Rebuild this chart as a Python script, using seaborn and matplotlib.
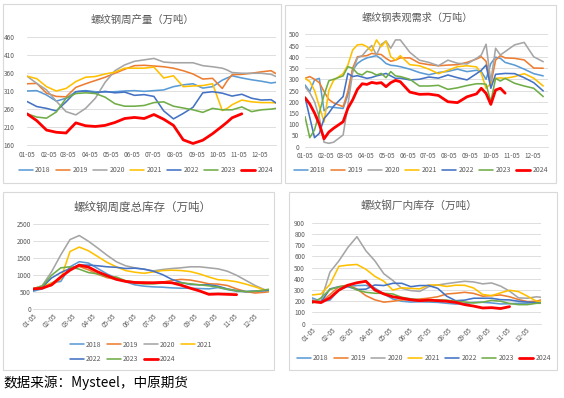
import numpy as np
import pandas as pd
import seaborn as sns
import matplotlib.pyplot as plt
from matplotlib.patches import Rectangle
from matplotlib.lines import Line2D

nan = np.nan

years = ['2018', '2019', '2020', '2021', '2022', '2023', '2024']
colors = ['#5B9BD5', '#ED7D31', '#A5A5A5', '#FFC000', '#4472C4', '#70AD47', '#FF0000']
month_labels = ['01-05', '02-05', '03-05', '04-05', '05-05', '06-05',
                '07-05', '08-05', '09-05', '10-05', '11-05', '12-05']
month_days = [0, 31, 59, 90, 120, 151, 181, 212, 243, 273, 304, 334]

# 螺纹钢周产量 (week index from 01-05)
prod_weeks = [0, 2, 4, 6, 8, 10, 12, 14, 16, 18, 20, 22, 24, 26, 28, 30, 32, 34, 36, 38, 40, 41, 42, 44, 46, 48, 50, 51]
prod_2018 = [310, 311, 299, 282, 290, 308, 311, 308, 307, 308, 310, 311, 309, 311, 313, 322, 327, 330, 318, 322, 340, 346, 352, 346, 341, 337, 332, 334]
prod_2019 = [330, 331, 304, 295, 294, 320, 330, 339, 348, 359, 370, 380, 381, 379, 377, 373, 366, 357, 343, 345, 317, 338, 355, 356, 359, 363, 366, 358]
prod_2020 = [351, 331, 313, 282, 253, 244, 262, 290, 334, 366, 382, 392, 396, 400, 390, 388, 388, 388, 380, 377, 373, 368, 361, 359, 359, 359, 356, 350]
prod_2021 = [351, 344, 322, 310, 317, 336, 348, 350, 357, 362, 373, 373, 373, 376, 346, 352, 322, 324, 325, 330, 256, 262, 272, 285, 280, 278, 278, 277]
prod_2022 = [281, 267, 262, 255, 280, 308, 310, 305, 309, 305, 307, 298, 300, 295, 255, 233, 248, 265, 305, 308, 304, 300, 296, 301, 290, 285, 286, 277]
prod_2023 = [247, 238, 235, 252, 290, 303, 305, 303, 293, 275, 268, 268, 270, 278, 280, 268, 263, 258, 251, 262, 258, 258, 258, 266, 253, 258, 260, 262]
prod_2024 = [247, 228, 202, 196, 194, 222, 214, 212, 215, 223, 234, 237, 234, 245, 232, 215, 175, 165, 174, 192, 213, 224, 236, 247, nan, nan, nan, nan]

# 螺纹钢表观需求
dem_weeks = [0, 1, 2, 3, 4, 5, 6, 8, 9, 10, 11, 12, 13, 14, 15, 16, 17, 18, 19, 20, 22, 24, 26, 28, 30, 32, 34, 36, 37, 38, 39, 40, 41, 42, 44, 46, 48, 50]
dem_2018 = [275, 245, 297, 304, 160, 178, 175, 170, 230, 340, 370, 385, 395, 400, 405, 390, 370, 362, 360, 356, 345, 330, 320, 330, 335, 345, 334, 340, 334, 300, 370, 398, 393, 375, 363, 345, 325, 315]
dem_2019 = [304, 312, 300, 285, 245, 210, 195, 178, 245, 349, 400, 403, 405, 415, 412, 410, 393, 380, 385, 395, 395, 372, 365, 360, 363, 365, 375, 390, 400, 380, 278, 385, 405, 395, 393, 386, 350, 349]
dem_2020 = [267, 240, 200, 130, 20, 15, 20, 52, 185, 330, 395, 405, 430, 450, 408, 455, 470, 438, 475, 475, 420, 385, 375, 360, 385, 371, 368, 393, 408, 456, 290, 438, 408, 423, 453, 464, 400, 378]
dem_2021 = [304, 290, 250, 180, 110, 250, 295, 325, 363, 430, 453, 455, 445, 425, 475, 445, 470, 400, 385, 405, 365, 360, 345, 325, 340, 356, 360, 355, 326, 260, 282, 304, 306, 304, 312, 325, 305, 270]
dem_2022 = [220, 130, 40, 59, 125, 150, 180, 223, 326, 312, 316, 310, 304, 308, 315, 320, 326, 315, 304, 305, 297, 300, 310, 305, 319, 307, 297, 325, 340, 363, 260, 322, 324, 326, 325, 307, 285, 248]
dem_2023 = [134, 40, 75, 150, 230, 293, 300, 315, 356, 349, 326, 319, 335, 330, 319, 326, 307, 334, 315, 312, 300, 270, 270, 273, 255, 262, 272, 280, 280, 278, 200, 304, 292, 304, 282, 270, 260, 223]
dem_2024 = [218, 190, 150, 100, 35, 65, 82, 111, 171, 208, 255, 280, 277, 286, 282, 285, 267, 285, 295, 289, 243, 233, 234, 228, 200, 196, 222, 235, 260, 237, 188, 252, 260, 238, nan, nan, nan, nan]

# 螺纹钢周度总库存
stock_weeks = [0, 2, 4, 6, 8, 10, 12, 14, 16, 18, 20, 22, 24, 26, 28, 30, 32, 34, 36, 38, 40, 42, 44, 46, 48, 50, 51]
stock_2018 = [530, 600, 780, 820, 1250, 1400, 1360, 1200, 1040, 920, 810, 720, 680, 660, 650, 630, 620, 620, 610, 600, 640, 580, 530, 520, 540, 550, 560]
stock_2019 = [600, 640, 700, 900, 1220, 1260, 1160, 1030, 930, 880, 840, 800, 800, 785, 800, 850, 880, 860, 810, 750, 740, 700, 600, 520, 480, 500, 520]
stock_2020 = [600, 700, 1100, 1600, 2050, 2170, 2000, 1800, 1590, 1400, 1280, 1220, 1180, 1130, 1170, 1200, 1220, 1250, 1250, 1220, 1190, 1120, 1000, 850, 700, 580, 550]
stock_2021 = [600, 680, 770, 900, 1700, 1830, 1720, 1550, 1380, 1250, 1140, 1090, 1060, 1100, 1140, 1150, 1140, 1110, 1040, 950, 870, 850, 810, 740, 660, 570, 530]
stock_2022 = [560, 650, 920, 1080, 1200, 1300, 1300, 1280, 1250, 1235, 1200, 1210, 1180, 1120, 1020, 880, 790, 730, 720, 720, 680, 600, 550, 520, 530, 550, 560]
stock_2023 = [600, 680, 1000, 1220, 1250, 1180, 1080, 1040, 960, 950, 840, 770, 750, 750, 770, 780, 775, 750, 720, 690, 650, 590, 545, 520, 530, 570, 590]
stock_2024 = [600, 620, 720, 950, 1150, 1300, 1240, 1100, 990, 880, 820, 790, 780, 780, 790, 780, 710, 620, 540, 440, 450, 440, 430, nan, nan, nan, nan]

# 螺纹钢厂内库存
fac_weeks = stock_weeks
fac_2018 = [230, 200, 210, 300, 332, 340, 342, 318, 265, 220, 200, 193, 195, 193, 190, 182, 175, 180, 190, 191, 185, 176, 178, 182, 183, 190, 192]
fac_2019 = [197, 192, 260, 330, 345, 310, 250, 213, 192, 200, 212, 212, 220, 228, 240, 265, 271, 280, 270, 245, 250, 256, 240, 215, 197, 200, 212]
fac_2020 = [212, 205, 460, 560, 680, 775, 650, 560, 445, 385, 315, 295, 288, 330, 345, 357, 368, 378, 372, 355, 363, 335, 290, 230, 227, 240, 235]
fac_2021 = [256, 265, 350, 512, 522, 528, 485, 422, 378, 300, 320, 315, 310, 345, 345, 332, 343, 342, 318, 260, 250, 275, 298, 286, 245, 200, 197]
fac_2022 = [197, 192, 310, 330, 330, 305, 308, 345, 340, 360, 360, 330, 340, 340, 315, 245, 205, 210, 227, 227, 227, 214, 212, 200, 193, 188, 182]
fac_2023 = [182, 230, 305, 328, 342, 300, 280, 271, 271, 265, 235, 222, 212, 203, 212, 210, 200, 193, 185, 192, 208, 200, 180, 170, 170, 182, 182]
fac_2024 = [197, 188, 230, 300, 343, 365, 378, 300, 265, 240, 227, 213, 205, 210, 205, 200, 190, 170, 157, 140, 143, 135, 152, nan, nan, nan, nan]

sns.set_theme(style='white')
plt.rcParams['font.family'] = ['Noto Sans CJK SC', 'DejaVu Sans']

W, H = 564, 398
fig = plt.figure(figsize=(W / 100, H / 100), dpi=100)
grey = '#595959'
month_pos = [d / 7 for d in month_days]


def long_frame(weeks, cols):
    rows = []
    for yr, vals in zip(years, cols):
        rows.append(pd.DataFrame({'week': weeks, 'value': vals, 'year': yr}))
    return pd.concat(rows).dropna()


def panel(box, title, title_xy, weeks, cols, ylim, ystep, rotate, ypad, xpad,
          legend_xy, legend_cols, title_size):
    x0, x1, y0, y1 = box
    ax = fig.add_axes([x0 / W, 1 - y1 / H, (x1 - x0) / W, (y1 - y0) / H])
    df = long_frame(weeks, cols)
    sns.lineplot(data=df, x='week', y='value', hue='year', hue_order=years,
                 palette=dict(zip(years, colors)), size='year',
                 sizes={y: (2.0 if y == '2024' else 1.15) for y in years},
                 estimator=None, ax=ax, legend=False)
    ax.set_xlim(0, 51)
    ax.set_ylim(*ylim)
    ax.set_yticks(np.arange(ylim[0], ylim[1] + 1, ystep))
    ax.set_xticks(month_pos)
    if rotate:
        ax.set_xticklabels(month_labels, rotation=45, ha='right', va='top',
                           rotation_mode='anchor')
    else:
        ax.set_xticklabels(month_labels)
    ax.set_xlabel('')
    ax.set_ylabel('')
    ax.grid(axis='y', color='#D9D9D9', lw=0.6)
    ax.grid(axis='x', visible=False)
    for s in ['top', 'right', 'left']:
        ax.spines[s].set_visible(False)
    ax.spines['bottom'].set_color('#D9D9D9')
    ax.spines['bottom'].set_linewidth(0.6)
    ax.tick_params(length=0, labelsize=4.6, colors=grey)
    ax.tick_params(axis='y', pad=ypad)
    ax.tick_params(axis='x', pad=xpad)

    fig.text(title_xy[0] / W, 1 - title_xy[1] / H, title, ha='center',
             va='center', fontsize=title_size, color=grey)

    handles = [Line2D([], [], color=c, lw=(2.0 if y == '2024' else 1.15))
               for y, c in zip(years, colors)]
    labels = list(years)
    if legend_cols == 4:
        order = [0, 4, 1, 5, 2, 6, 3]
        handles = [handles[i] for i in order]
        labels = [labels[i] for i in order]
    fig.legend(handles, labels, loc='center',
               bbox_to_anchor=(legend_xy[0] / W, 1 - legend_xy[1] / H),
               ncol=legend_cols, frameon=False, fontsize=5,
               handlelength=2.0, handletextpad=0.3, columnspacing=0.8,
               labelspacing=0.9, labelcolor=grey)
    return ax


# chart frames
for bx0, by0, bx1, by1 in [(3, 4, 281, 183), (285, 5, 556, 183),
                           (3, 192, 274, 370), (289, 192, 557, 370)]:
    fig.add_artist(Rectangle((bx0 / W, 1 - by1 / H), (bx1 - bx0) / W, (by1 - by0) / H,
                             transform=fig.transFigure, fill=False,
                             ec='#D9D9D9', lw=0.8))

panel((27, 276, 36.7, 145.3), '螺纹钢周产量（万吨）', (142, 20), prod_weeks,
      [prod_2018, prod_2019, prod_2020, prod_2021, prod_2022, prod_2023, prod_2024],
      (160, 460), 50, False, 9.0, 4.0, (146, 170), 7, 7.5)

panel((305, 548, 34.3, 146.7), '螺纹钢表观需求（万吨）', (417, 18), dem_weeks,
      [dem_2018, dem_2019, dem_2020, dem_2021, dem_2022, dem_2023, dem_2024],
      (0, 500), 50, False, 4.0, 3.5, (421, 170), 7, 7.3)

panel((33, 269, 224.3, 309.3), '螺纹钢周度总库存（万吨）', (143, 207), stock_weeks,
      [stock_2018, stock_2019, stock_2020, stock_2021, stock_2022, stock_2023, stock_2024],
      (0, 2500), 500, True, 1.5, 2.0, (141, 352), 4, 8.3)

panel((312, 541, 222.7, 323.7), '螺纹钢厂内库存（万吨）', (419, 206), fac_weeks,
      [fac_2018, fac_2019, fac_2020, fac_2021, fac_2022, fac_2023, fac_2024],
      (0, 900), 100, True, 5.0, 2.0, (424, 358), 7, 7.7)

fig.text(3 / W, 1 - 383 / H, '数据来源：Mysteel，中原期货', ha='left', va='center',
         fontsize=9.8, color='black')

fig.savefig('out.png', dpi=100)
